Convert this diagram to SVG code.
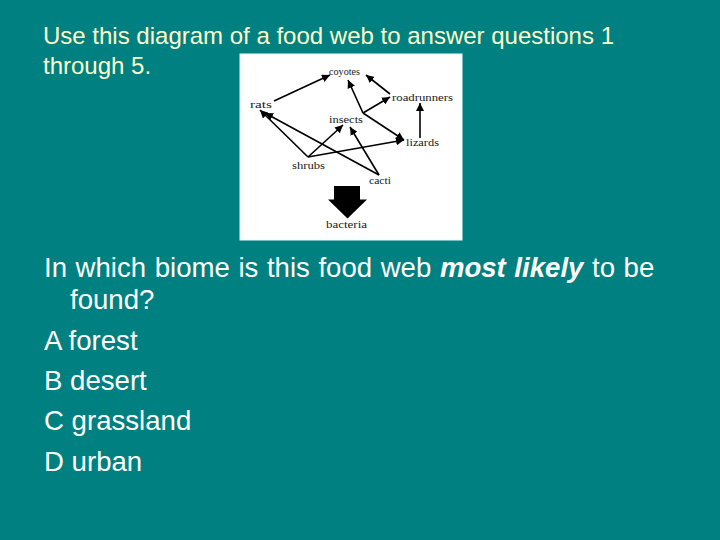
<svg xmlns="http://www.w3.org/2000/svg" width="720" height="540" viewBox="0 0 720 540">
<style>
.title{font-family:"Liberation Sans",Arial,sans-serif;font-size:24px;fill:#FFFFCC}
.body{font-family:"Liberation Sans",Arial,sans-serif;font-size:27.6px;fill:#FFFFFF}
.lbl{font-family:"Liberation Serif","Times New Roman",serif;font-size:11px;fill:#1a1a1a}
.edge{stroke:#000;stroke-width:1.6;fill:none;marker-end:url(#ah)}
</style>
<defs>
<marker id="ah" markerUnits="userSpaceOnUse" markerWidth="9" markerHeight="8" refX="8" refY="4" orient="auto">
<path d="M0,0 L8,4 L0,8 Z" fill="#000"/>
</marker>
</defs>
<rect x="0" y="0" width="720" height="540" fill="#008080"/>
<text class="title" x="43" y="44">Use this diagram of a food web to answer questions 1</text>
<text class="title" x="43" y="74">through 5.</text>

<g id="foodweb">
<rect x="240" y="54" width="222" height="186" fill="#FFFFFF" stroke="#E6FFFF" stroke-width="1"/>
<g id="connectors">
<line class="edge" x1="274" y1="101" x2="330" y2="75"/>
<line class="edge" x1="363" y1="113" x2="348" y2="80"/>
<line class="edge" x1="390" y1="94" x2="366" y2="75"/>
<line class="edge" x1="363" y1="113" x2="390" y2="97"/>
<line class="edge" x1="363" y1="113" x2="404" y2="140"/>
<line class="edge" x1="420" y1="138" x2="420" y2="103"/>
<line class="edge" x1="308" y1="157" x2="260" y2="110"/>
<line class="edge" x1="379" y1="175" x2="265" y2="113"/>
<line class="edge" x1="308" y1="157" x2="343" y2="125"/>
<line class="edge" x1="379" y1="175" x2="350" y2="127"/>
<line class="edge" x1="308" y1="157" x2="404" y2="140"/>
</g>
<g id="coyotes"><text class="lbl" x="329" y="75" textLength="31" lengthAdjust="spacingAndGlyphs">coyotes</text></g>
<g id="rats"><text class="lbl" x="250" y="108" textLength="22" lengthAdjust="spacingAndGlyphs">rats</text></g>
<g id="roadrunners"><text class="lbl" x="392" y="101" textLength="61" lengthAdjust="spacingAndGlyphs">roadrunners</text></g>
<g id="insects"><text class="lbl" x="329" y="123" textLength="34" lengthAdjust="spacingAndGlyphs">insects</text></g>
<g id="lizards"><text class="lbl" x="406" y="146" textLength="33" lengthAdjust="spacingAndGlyphs">lizards</text></g>
<g id="shrubs"><text class="lbl" x="292" y="169" textLength="33" lengthAdjust="spacingAndGlyphs">shrubs</text></g>
<g id="cacti"><text class="lbl" x="369" y="184" textLength="22" lengthAdjust="spacingAndGlyphs">cacti</text></g>
<g id="bacteria">
<path d="M334,186 H360 V199.5 H367 L347.5,218.5 L328,199.5 H334 Z" fill="#000"/>
<text class="lbl" x="326" y="228" textLength="41" lengthAdjust="spacingAndGlyphs">bacteria</text>
</g>
</g>

<text class="body" x="44" y="277" word-spacing="0.9">In which biome is this food web <tspan font-weight="bold" font-style="italic">most likely</tspan> to be</text>
<text class="body" x="70" y="309">found?</text>
<text class="body" x="44" y="350">A forest</text>
<text class="body" x="44" y="390">B desert</text>
<text class="body" x="44" y="430">C grassland</text>
<text class="body" x="44" y="471">D urban</text>
</svg>
